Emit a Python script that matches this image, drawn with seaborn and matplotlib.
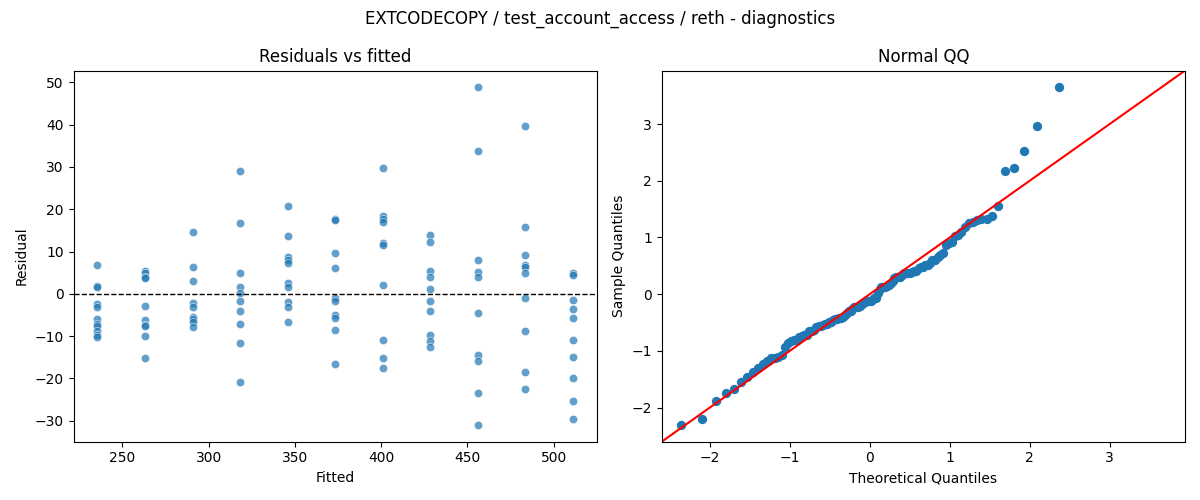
from statistics import NormalDist

import numpy as np
import pandas as pd
import seaborn as sns
import matplotlib
matplotlib.use("Agg")
import matplotlib.pyplot as plt

# fitted level of each group (one per client build step)
fitted_levels = [235.5, 263.1, 290.7, 318.2, 345.8, 373.4, 400.9, 428.5, 456.1, 483.6, 511.2]

# residuals, one list per fitted level
resid_groups = [
    [6.9, 1.9, 1.6, -2.4, -3.2, -6.0, -7.1, -7.7, -8.9, -9.7, -10.3],
    [5.5, 4.9, 3.9, 3.7, -2.9, -6.3, -7.4, -7.7, -9.9, -15.3],
    [14.6, 6.3, 3.0, -2.1, -3.2, -5.5, -6.0, -6.7, -7.9],
    [29.0, 16.7, 4.9, 1.6, 0.2, -1.7, -4.1, -7.2, -11.6, -20.8],
    [20.8, 13.7, 8.7, 8.0, 7.2, 2.5, 1.7, -1.9, -3.2, -6.7],
    [17.8, 17.4, 9.6, 6.1, -0.9, -1.8, -5.0, -5.7, -8.5, -16.5],
    [29.7, 18.5, 17.7, 16.9, 12.1, 11.6, 2.1, -10.9, -15.3, -17.5],
    [13.9, 12.2, 5.4, 3.9, 1.1, -1.7, -4.0, -9.7, -11.1, -12.7],
    [48.8, 33.7, 8.1, 5.2, 3.9, -4.6, -14.4, -15.9, -23.4, -31.0],
    [39.6, 15.8, 9.2, 6.9, 6.3, 4.9, -1.0, -8.7, -18.4, -22.5],
    [5.0, 4.5, -1.5, -3.6, -5.7, -10.9, -14.9, -19.8, -25.3, -29.7],
]

title = "EXTCODECOPY / test_account_access / reth - diagnostics"

fitted = np.concatenate([[f] * len(g) for f, g in zip(fitted_levels, resid_groups)])
resid = np.concatenate(resid_groups)
df = pd.DataFrame({"fitted": fitted, "resid": resid})

# normal QQ: standardised residuals vs normal quantiles at i/(n+1)
n = len(resid)
sample_q = np.sort((resid - resid.mean()) / resid.std())
theo_q = np.array([NormalDist().inv_cdf(i / (n + 1)) for i in range(1, n + 1)])
qq = pd.DataFrame({"theo": theo_q, "sample": sample_q})

fig, axes = plt.subplots(1, 2, figsize=(12, 5), dpi=100)

ax = axes[0]
sns.scatterplot(data=df, x="fitted", y="resid", alpha=0.7, ax=ax)
ax.axhline(0, color="black", linestyle="--", linewidth=1)
ax.set_title("Residuals vs fitted")
ax.set_xlabel("Fitted")
ax.set_ylabel("Residual")

ax = axes[1]
sns.scatterplot(data=qq, x="theo", y="sample", color="C0", s=45, linewidth=0, ax=ax)
lo = min(ax.get_xlim()[0], ax.get_ylim()[0])
hi = max(ax.get_xlim()[1], ax.get_ylim()[1])
ax.plot([lo, hi], [lo, hi], "r-")
ax.set_xlim(lo, hi)
ax.set_ylim(lo, hi)
ax.set_title("Normal QQ")
ax.set_xlabel("Theoretical Quantiles")
ax.set_ylabel("Sample Quantiles")

fig.suptitle(title)
fig.tight_layout()
fig.savefig("out.png")
